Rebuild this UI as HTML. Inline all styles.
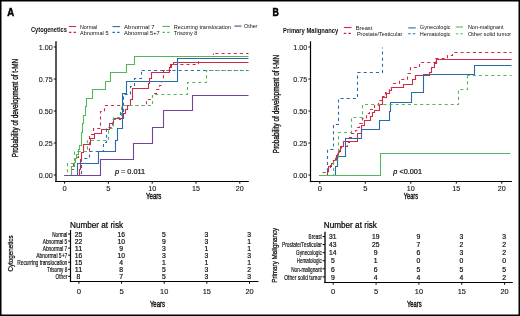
<!DOCTYPE html>
<html><head><meta charset="utf-8"><style>
html,body{margin:0;padding:0;background:#fff;width:520px;height:316px;overflow:hidden;}
svg{display:block;font-family:"Liberation Sans", sans-serif;will-change:transform;}
</style></head><body>
<svg width="520" height="316" viewBox="0 0 520 316">
<rect x="0" y="0" width="520" height="316" fill="#fff"/>
<text transform="translate(7.25,16.00) scale(0.1)" x="0" y="0" font-size="106.0" text-anchor="start" font-weight="bold" fill="#000" stroke="#000" stroke-width="5.00" textLength="69.0" lengthAdjust="spacingAndGlyphs">A</text>
<text transform="translate(272.55,15.60) scale(0.1)" x="0" y="0" font-size="106.0" text-anchor="start" font-weight="bold" fill="#000" stroke="#000" stroke-width="5.00" textLength="63.0" lengthAdjust="spacingAndGlyphs">B</text>
<text transform="translate(30.90,31.70) scale(0.1)" x="0" y="0" font-size="65.0" text-anchor="start" font-weight="bold" fill="#111" textLength="360.0" lengthAdjust="spacingAndGlyphs">Cytogenetics</text>
<line x1="68.90" y1="26.50" x2="76.10" y2="26.50" stroke="#cf2b45" stroke-width="1.1"/>
<line x1="68.90" y1="32.40" x2="76.10" y2="32.40" stroke="#cf2b45" stroke-width="1.1" stroke-dasharray="2.5,2.1"/>
<text transform="translate(80.00,28.80) scale(0.1)" x="0" y="0" font-size="60.5" text-anchor="start" font-weight="normal" fill="#111" textLength="173.0" lengthAdjust="spacingAndGlyphs">Normal</text>
<text transform="translate(80.00,35.00) scale(0.1)" x="0" y="0" font-size="60.5" text-anchor="start" font-weight="normal" fill="#111" textLength="285.0" lengthAdjust="spacingAndGlyphs">Abnormal 5</text>
<line x1="112.50" y1="26.60" x2="120.20" y2="26.60" stroke="#2b6ca6" stroke-width="1.1"/>
<line x1="112.50" y1="32.40" x2="120.20" y2="32.40" stroke="#2b6ca6" stroke-width="1.1" stroke-dasharray="2.5,2.1"/>
<text transform="translate(124.10,28.90) scale(0.1)" x="0" y="0" font-size="60.5" text-anchor="start" font-weight="normal" fill="#111" textLength="305.0" lengthAdjust="spacingAndGlyphs">Abnormal 7</text>
<text transform="translate(124.10,35.00) scale(0.1)" x="0" y="0" font-size="60.5" text-anchor="start" font-weight="normal" fill="#111" textLength="357.0" lengthAdjust="spacingAndGlyphs">Abnormal 5+7</text>
<line x1="162.50" y1="26.40" x2="169.90" y2="26.40" stroke="#55b75c" stroke-width="1.1"/>
<line x1="162.50" y1="32.40" x2="169.90" y2="32.40" stroke="#55b75c" stroke-width="1.1" stroke-dasharray="2.5,2.1"/>
<text transform="translate(173.80,29.00) scale(0.1)" x="0" y="0" font-size="60.5" text-anchor="start" font-weight="normal" fill="#111" textLength="571.0" lengthAdjust="spacingAndGlyphs">Recurring translocation</text>
<text transform="translate(173.80,35.10) scale(0.1)" x="0" y="0" font-size="60.5" text-anchor="start" font-weight="normal" fill="#111" textLength="235.0" lengthAdjust="spacingAndGlyphs">Trisomy 8</text>
<line x1="234.40" y1="26.10" x2="241.50" y2="26.10" stroke="#6a3596" stroke-width="1.1"/>
<text transform="translate(244.00,28.40) scale(0.1)" x="0" y="0" font-size="60.5" text-anchor="start" font-weight="normal" fill="#111" textLength="134.0" lengthAdjust="spacingAndGlyphs">Other</text>
<text transform="translate(283.10,32.80) scale(0.1)" x="0" y="0" font-size="65.0" text-anchor="start" font-weight="bold" fill="#111" textLength="551.0" lengthAdjust="spacingAndGlyphs">Primary Malignancy</text>
<line x1="343.80" y1="27.50" x2="351.50" y2="27.50" stroke="#cf2b45" stroke-width="1.1"/>
<line x1="343.80" y1="33.40" x2="351.50" y2="33.40" stroke="#cf2b45" stroke-width="1.1" stroke-dasharray="2.5,2.1"/>
<text transform="translate(355.80,29.90) scale(0.1)" x="0" y="0" font-size="60.5" text-anchor="start" font-weight="normal" fill="#111" textLength="165.0" lengthAdjust="spacingAndGlyphs">Breast</text>
<text transform="translate(356.90,36.20) scale(0.1)" x="0" y="0" font-size="60.5" text-anchor="start" font-weight="normal" fill="#111" textLength="454.0" lengthAdjust="spacingAndGlyphs">Prostate/Testicular</text>
<line x1="408.20" y1="27.90" x2="415.80" y2="27.90" stroke="#2b6ca6" stroke-width="1.1"/>
<line x1="408.20" y1="33.70" x2="415.80" y2="33.70" stroke="#2b6ca6" stroke-width="1.1" stroke-dasharray="2.5,2.1"/>
<text transform="translate(419.80,29.30) scale(0.1)" x="0" y="0" font-size="60.5" text-anchor="start" font-weight="normal" fill="#111" textLength="308.0" lengthAdjust="spacingAndGlyphs">Gynecologic</text>
<text transform="translate(419.80,36.20) scale(0.1)" x="0" y="0" font-size="60.5" text-anchor="start" font-weight="normal" fill="#111" textLength="308.0" lengthAdjust="spacingAndGlyphs">Hematologic</text>
<line x1="455.80" y1="27.00" x2="463.00" y2="27.00" stroke="#55b75c" stroke-width="1.1"/>
<line x1="455.80" y1="33.80" x2="463.00" y2="33.80" stroke="#55b75c" stroke-width="1.1" stroke-dasharray="2.5,2.1"/>
<text transform="translate(467.90,29.20) scale(0.1)" x="0" y="0" font-size="60.5" text-anchor="start" font-weight="normal" fill="#111" textLength="356.0" lengthAdjust="spacingAndGlyphs">Non-malignant</text>
<text transform="translate(467.90,36.20) scale(0.1)" x="0" y="0" font-size="60.5" text-anchor="start" font-weight="normal" fill="#111" textLength="433.0" lengthAdjust="spacingAndGlyphs">Other solid tumor</text>
<line x1="56.00" y1="41.30" x2="56.00" y2="182.10" stroke="#222" stroke-width="1.5"/>
<line x1="55.25" y1="181.50" x2="248.80" y2="181.50" stroke="#000" stroke-width="1.2"/>
<line x1="53.80" y1="47.00" x2="56.00" y2="47.00" stroke="#000" stroke-width="0.9"/>
<text transform="translate(52.80,49.75) scale(0.1)" x="0" y="0" font-size="73.0" text-anchor="end" font-weight="normal" fill="#111" stroke="#111" stroke-width="0.80" textLength="140.0" lengthAdjust="spacingAndGlyphs">1.00</text>
<line x1="53.80" y1="79.00" x2="56.00" y2="79.00" stroke="#000" stroke-width="0.9"/>
<text transform="translate(52.80,81.75) scale(0.1)" x="0" y="0" font-size="73.0" text-anchor="end" font-weight="normal" fill="#111" stroke="#111" stroke-width="0.80" textLength="140.0" lengthAdjust="spacingAndGlyphs">0.75</text>
<line x1="53.80" y1="111.00" x2="56.00" y2="111.00" stroke="#000" stroke-width="0.9"/>
<text transform="translate(52.80,113.75) scale(0.1)" x="0" y="0" font-size="73.0" text-anchor="end" font-weight="normal" fill="#111" stroke="#111" stroke-width="0.80" textLength="140.0" lengthAdjust="spacingAndGlyphs">0.50</text>
<line x1="53.80" y1="143.00" x2="56.00" y2="143.00" stroke="#000" stroke-width="0.9"/>
<text transform="translate(52.80,145.75) scale(0.1)" x="0" y="0" font-size="73.0" text-anchor="end" font-weight="normal" fill="#111" stroke="#111" stroke-width="0.80" textLength="140.0" lengthAdjust="spacingAndGlyphs">0.25</text>
<line x1="53.80" y1="175.00" x2="56.00" y2="175.00" stroke="#000" stroke-width="0.9"/>
<text transform="translate(52.80,177.75) scale(0.1)" x="0" y="0" font-size="73.0" text-anchor="end" font-weight="normal" fill="#111" stroke="#111" stroke-width="0.80" textLength="140.0" lengthAdjust="spacingAndGlyphs">0.00</text>
<line x1="64.60" y1="181.50" x2="64.60" y2="183.70" stroke="#000" stroke-width="1.0"/>
<text transform="translate(64.60,190.90) scale(0.1)" x="0" y="0" font-size="78.0" text-anchor="middle" font-weight="normal" fill="#111" stroke="#111" stroke-width="1.00" textLength="42.0" lengthAdjust="spacingAndGlyphs">0</text>
<line x1="108.40" y1="181.50" x2="108.40" y2="183.70" stroke="#000" stroke-width="1.0"/>
<text transform="translate(108.40,190.90) scale(0.1)" x="0" y="0" font-size="78.0" text-anchor="middle" font-weight="normal" fill="#111" stroke="#111" stroke-width="1.00" textLength="42.0" lengthAdjust="spacingAndGlyphs">5</text>
<line x1="152.20" y1="181.50" x2="152.20" y2="183.70" stroke="#000" stroke-width="1.0"/>
<text transform="translate(152.20,190.90) scale(0.1)" x="0" y="0" font-size="78.0" text-anchor="middle" font-weight="normal" fill="#111" stroke="#111" stroke-width="1.00" textLength="80.0" lengthAdjust="spacingAndGlyphs">10</text>
<line x1="196.00" y1="181.50" x2="196.00" y2="183.70" stroke="#000" stroke-width="1.0"/>
<text transform="translate(196.00,190.90) scale(0.1)" x="0" y="0" font-size="78.0" text-anchor="middle" font-weight="normal" fill="#111" stroke="#111" stroke-width="1.00" textLength="80.0" lengthAdjust="spacingAndGlyphs">15</text>
<line x1="239.80" y1="181.50" x2="239.80" y2="183.70" stroke="#000" stroke-width="1.0"/>
<text transform="translate(239.80,190.90) scale(0.1)" x="0" y="0" font-size="78.0" text-anchor="middle" font-weight="normal" fill="#111" stroke="#111" stroke-width="1.00" textLength="80.0" lengthAdjust="spacingAndGlyphs">20</text>
<text transform="translate(146.00,199.40) scale(0.1)" x="0" y="0" font-size="90.0" text-anchor="start" font-weight="normal" fill="#111" stroke="#111" stroke-width="4.00" textLength="154.0" lengthAdjust="spacingAndGlyphs">Years</text>
<text transform="translate(18.30,108.00) rotate(-90) scale(0.1)" x="0" y="0" font-size="84.0" text-anchor="middle" font-weight="normal" fill="#111" stroke="#111" stroke-width="3.50" textLength="983.0" lengthAdjust="spacingAndGlyphs">Probability of development of t-MN</text>
<line x1="310.50" y1="41.30" x2="310.50" y2="182.10" stroke="#000" stroke-width="1.2"/>
<line x1="309.90" y1="181.50" x2="511.90" y2="181.50" stroke="#000" stroke-width="1.2"/>
<line x1="308.30" y1="47.00" x2="310.50" y2="47.00" stroke="#000" stroke-width="0.9"/>
<text transform="translate(307.30,49.75) scale(0.1)" x="0" y="0" font-size="73.0" text-anchor="end" font-weight="normal" fill="#111" stroke="#111" stroke-width="0.80" textLength="140.0" lengthAdjust="spacingAndGlyphs">1.00</text>
<line x1="308.30" y1="79.00" x2="310.50" y2="79.00" stroke="#000" stroke-width="0.9"/>
<text transform="translate(307.30,81.75) scale(0.1)" x="0" y="0" font-size="73.0" text-anchor="end" font-weight="normal" fill="#111" stroke="#111" stroke-width="0.80" textLength="140.0" lengthAdjust="spacingAndGlyphs">0.75</text>
<line x1="308.30" y1="111.00" x2="310.50" y2="111.00" stroke="#000" stroke-width="0.9"/>
<text transform="translate(307.30,113.75) scale(0.1)" x="0" y="0" font-size="73.0" text-anchor="end" font-weight="normal" fill="#111" stroke="#111" stroke-width="0.80" textLength="140.0" lengthAdjust="spacingAndGlyphs">0.50</text>
<line x1="308.30" y1="143.00" x2="310.50" y2="143.00" stroke="#000" stroke-width="0.9"/>
<text transform="translate(307.30,145.75) scale(0.1)" x="0" y="0" font-size="73.0" text-anchor="end" font-weight="normal" fill="#111" stroke="#111" stroke-width="0.80" textLength="140.0" lengthAdjust="spacingAndGlyphs">0.25</text>
<line x1="308.30" y1="175.00" x2="310.50" y2="175.00" stroke="#000" stroke-width="0.9"/>
<text transform="translate(307.30,177.75) scale(0.1)" x="0" y="0" font-size="73.0" text-anchor="end" font-weight="normal" fill="#111" stroke="#111" stroke-width="0.80" textLength="140.0" lengthAdjust="spacingAndGlyphs">0.00</text>
<line x1="319.80" y1="181.50" x2="319.80" y2="183.70" stroke="#000" stroke-width="1.0"/>
<text transform="translate(319.80,190.90) scale(0.1)" x="0" y="0" font-size="78.0" text-anchor="middle" font-weight="normal" fill="#111" stroke="#111" stroke-width="1.00" textLength="42.0" lengthAdjust="spacingAndGlyphs">0</text>
<line x1="365.30" y1="181.50" x2="365.30" y2="183.70" stroke="#000" stroke-width="1.0"/>
<text transform="translate(365.30,190.90) scale(0.1)" x="0" y="0" font-size="78.0" text-anchor="middle" font-weight="normal" fill="#111" stroke="#111" stroke-width="1.00" textLength="42.0" lengthAdjust="spacingAndGlyphs">5</text>
<line x1="410.80" y1="181.50" x2="410.80" y2="183.70" stroke="#000" stroke-width="1.0"/>
<text transform="translate(410.80,190.90) scale(0.1)" x="0" y="0" font-size="78.0" text-anchor="middle" font-weight="normal" fill="#111" stroke="#111" stroke-width="1.00" textLength="80.0" lengthAdjust="spacingAndGlyphs">10</text>
<line x1="456.30" y1="181.50" x2="456.30" y2="183.70" stroke="#000" stroke-width="1.0"/>
<text transform="translate(456.30,190.90) scale(0.1)" x="0" y="0" font-size="78.0" text-anchor="middle" font-weight="normal" fill="#111" stroke="#111" stroke-width="1.00" textLength="80.0" lengthAdjust="spacingAndGlyphs">15</text>
<line x1="501.80" y1="181.50" x2="501.80" y2="183.70" stroke="#000" stroke-width="1.0"/>
<text transform="translate(501.80,190.90) scale(0.1)" x="0" y="0" font-size="78.0" text-anchor="middle" font-weight="normal" fill="#111" stroke="#111" stroke-width="1.00" textLength="80.0" lengthAdjust="spacingAndGlyphs">20</text>
<text transform="translate(403.80,199.40) scale(0.1)" x="0" y="0" font-size="90.0" text-anchor="start" font-weight="normal" fill="#111" stroke="#111" stroke-width="4.00" textLength="142.0" lengthAdjust="spacingAndGlyphs">Years</text>
<text transform="translate(279.00,104.00) rotate(-90) scale(0.1)" x="0" y="0" font-size="84.0" text-anchor="middle" font-weight="normal" fill="#111" stroke="#111" stroke-width="3.50" textLength="983.0" lengthAdjust="spacingAndGlyphs">Probability of development of t-MN</text>
<text transform="translate(114.90,173.60) scale(0.1)" x="0" y="0" font-size="70.0" text-anchor="start" font-weight="normal" fill="#111" stroke="#111" stroke-width="2.00" textLength="303.0" lengthAdjust="spacingAndGlyphs"><tspan font-style="italic">p</tspan> = 0.011</text>
<text transform="translate(393.30,173.80) scale(0.1)" x="0" y="0" font-size="70.0" text-anchor="start" font-weight="normal" fill="#111" stroke="#111" stroke-width="2.00" textLength="287.0" lengthAdjust="spacingAndGlyphs"><tspan font-style="italic">p</tspan> &lt;0.001</text>
<text transform="translate(70.00,227.50) scale(0.1)" x="0" y="0" font-size="83.0" text-anchor="start" font-weight="normal" fill="#000" stroke="#000" stroke-width="2.00" textLength="531.0" lengthAdjust="spacingAndGlyphs">Number at risk</text>
<line x1="70.50" y1="230.00" x2="70.50" y2="282.10" stroke="#000" stroke-width="1.2"/>
<line x1="69.90" y1="281.50" x2="258.50" y2="281.50" stroke="#000" stroke-width="1.2"/>
<line x1="68.10" y1="234.00" x2="70.50" y2="234.00" stroke="#000" stroke-width="1.0"/>
<text transform="translate(67.30,236.70) scale(0.1)" x="0" y="0" font-size="76.0" text-anchor="end" font-weight="normal" fill="#111" stroke="#111" stroke-width="2.00" textLength="151.0" lengthAdjust="spacingAndGlyphs">Normal</text>
<text transform="translate(78.50,236.70) scale(0.1)" x="0" y="0" font-size="66.0" text-anchor="middle" font-weight="normal" fill="#111" stroke="#111" stroke-width="2.00" textLength="75.0" lengthAdjust="spacingAndGlyphs">25</text>
<text transform="translate(121.15,236.70) scale(0.1)" x="0" y="0" font-size="66.0" text-anchor="middle" font-weight="normal" fill="#111" stroke="#111" stroke-width="2.00" textLength="75.0" lengthAdjust="spacingAndGlyphs">16</text>
<text transform="translate(163.80,236.70) scale(0.1)" x="0" y="0" font-size="66.0" text-anchor="middle" font-weight="normal" fill="#111" stroke="#111" stroke-width="2.00" textLength="38.0" lengthAdjust="spacingAndGlyphs">5</text>
<text transform="translate(206.45,236.70) scale(0.1)" x="0" y="0" font-size="66.0" text-anchor="middle" font-weight="normal" fill="#111" stroke="#111" stroke-width="2.00" textLength="38.0" lengthAdjust="spacingAndGlyphs">3</text>
<text transform="translate(249.10,236.70) scale(0.1)" x="0" y="0" font-size="66.0" text-anchor="middle" font-weight="normal" fill="#111" stroke="#111" stroke-width="2.00" textLength="38.0" lengthAdjust="spacingAndGlyphs">3</text>
<line x1="68.10" y1="241.05" x2="70.50" y2="241.05" stroke="#000" stroke-width="1.0"/>
<text transform="translate(67.30,243.75) scale(0.1)" x="0" y="0" font-size="76.0" text-anchor="end" font-weight="normal" fill="#111" stroke="#111" stroke-width="2.00" textLength="246.0" lengthAdjust="spacingAndGlyphs">Abnormal 5</text>
<text transform="translate(78.50,243.75) scale(0.1)" x="0" y="0" font-size="66.0" text-anchor="middle" font-weight="normal" fill="#111" stroke="#111" stroke-width="2.00" textLength="75.0" lengthAdjust="spacingAndGlyphs">22</text>
<text transform="translate(121.15,243.75) scale(0.1)" x="0" y="0" font-size="66.0" text-anchor="middle" font-weight="normal" fill="#111" stroke="#111" stroke-width="2.00" textLength="75.0" lengthAdjust="spacingAndGlyphs">10</text>
<text transform="translate(163.80,243.75) scale(0.1)" x="0" y="0" font-size="66.0" text-anchor="middle" font-weight="normal" fill="#111" stroke="#111" stroke-width="2.00" textLength="38.0" lengthAdjust="spacingAndGlyphs">9</text>
<text transform="translate(206.45,243.75) scale(0.1)" x="0" y="0" font-size="66.0" text-anchor="middle" font-weight="normal" fill="#111" stroke="#111" stroke-width="2.00" textLength="38.0" lengthAdjust="spacingAndGlyphs">3</text>
<text transform="translate(249.10,243.75) scale(0.1)" x="0" y="0" font-size="66.0" text-anchor="middle" font-weight="normal" fill="#111" stroke="#111" stroke-width="2.00" textLength="38.0" lengthAdjust="spacingAndGlyphs">1</text>
<line x1="68.10" y1="248.10" x2="70.50" y2="248.10" stroke="#000" stroke-width="1.0"/>
<text transform="translate(67.30,250.80) scale(0.1)" x="0" y="0" font-size="76.0" text-anchor="end" font-weight="normal" fill="#111" stroke="#111" stroke-width="2.00" textLength="246.0" lengthAdjust="spacingAndGlyphs">Abnormal 7</text>
<text transform="translate(78.50,250.80) scale(0.1)" x="0" y="0" font-size="66.0" text-anchor="middle" font-weight="normal" fill="#111" stroke="#111" stroke-width="2.00" textLength="75.0" lengthAdjust="spacingAndGlyphs">11</text>
<text transform="translate(121.15,250.80) scale(0.1)" x="0" y="0" font-size="66.0" text-anchor="middle" font-weight="normal" fill="#111" stroke="#111" stroke-width="2.00" textLength="38.0" lengthAdjust="spacingAndGlyphs">9</text>
<text transform="translate(163.80,250.80) scale(0.1)" x="0" y="0" font-size="66.0" text-anchor="middle" font-weight="normal" fill="#111" stroke="#111" stroke-width="2.00" textLength="38.0" lengthAdjust="spacingAndGlyphs">3</text>
<text transform="translate(206.45,250.80) scale(0.1)" x="0" y="0" font-size="66.0" text-anchor="middle" font-weight="normal" fill="#111" stroke="#111" stroke-width="2.00" textLength="38.0" lengthAdjust="spacingAndGlyphs">1</text>
<text transform="translate(249.10,250.80) scale(0.1)" x="0" y="0" font-size="66.0" text-anchor="middle" font-weight="normal" fill="#111" stroke="#111" stroke-width="2.00" textLength="38.0" lengthAdjust="spacingAndGlyphs">1</text>
<line x1="68.10" y1="255.15" x2="70.50" y2="255.15" stroke="#000" stroke-width="1.0"/>
<text transform="translate(67.30,257.85) scale(0.1)" x="0" y="0" font-size="76.0" text-anchor="end" font-weight="normal" fill="#111" stroke="#111" stroke-width="2.00" textLength="311.0" lengthAdjust="spacingAndGlyphs">Abnormal 5+7</text>
<text transform="translate(78.50,257.85) scale(0.1)" x="0" y="0" font-size="66.0" text-anchor="middle" font-weight="normal" fill="#111" stroke="#111" stroke-width="2.00" textLength="75.0" lengthAdjust="spacingAndGlyphs">16</text>
<text transform="translate(121.15,257.85) scale(0.1)" x="0" y="0" font-size="66.0" text-anchor="middle" font-weight="normal" fill="#111" stroke="#111" stroke-width="2.00" textLength="75.0" lengthAdjust="spacingAndGlyphs">10</text>
<text transform="translate(163.80,257.85) scale(0.1)" x="0" y="0" font-size="66.0" text-anchor="middle" font-weight="normal" fill="#111" stroke="#111" stroke-width="2.00" textLength="38.0" lengthAdjust="spacingAndGlyphs">3</text>
<text transform="translate(206.45,257.85) scale(0.1)" x="0" y="0" font-size="66.0" text-anchor="middle" font-weight="normal" fill="#111" stroke="#111" stroke-width="2.00" textLength="38.0" lengthAdjust="spacingAndGlyphs">3</text>
<text transform="translate(249.10,257.85) scale(0.1)" x="0" y="0" font-size="66.0" text-anchor="middle" font-weight="normal" fill="#111" stroke="#111" stroke-width="2.00" textLength="38.0" lengthAdjust="spacingAndGlyphs">3</text>
<line x1="68.10" y1="262.20" x2="70.50" y2="262.20" stroke="#000" stroke-width="1.0"/>
<text transform="translate(67.30,264.90) scale(0.1)" x="0" y="0" font-size="76.0" text-anchor="end" font-weight="normal" fill="#111" stroke="#111" stroke-width="2.00" textLength="501.0" lengthAdjust="spacingAndGlyphs">Recurring translocation</text>
<text transform="translate(78.50,264.90) scale(0.1)" x="0" y="0" font-size="66.0" text-anchor="middle" font-weight="normal" fill="#111" stroke="#111" stroke-width="2.00" textLength="75.0" lengthAdjust="spacingAndGlyphs">15</text>
<text transform="translate(121.15,264.90) scale(0.1)" x="0" y="0" font-size="66.0" text-anchor="middle" font-weight="normal" fill="#111" stroke="#111" stroke-width="2.00" textLength="38.0" lengthAdjust="spacingAndGlyphs">4</text>
<text transform="translate(163.80,264.90) scale(0.1)" x="0" y="0" font-size="66.0" text-anchor="middle" font-weight="normal" fill="#111" stroke="#111" stroke-width="2.00" textLength="38.0" lengthAdjust="spacingAndGlyphs">1</text>
<text transform="translate(206.45,264.90) scale(0.1)" x="0" y="0" font-size="66.0" text-anchor="middle" font-weight="normal" fill="#111" stroke="#111" stroke-width="2.00" textLength="38.0" lengthAdjust="spacingAndGlyphs">1</text>
<text transform="translate(249.10,264.90) scale(0.1)" x="0" y="0" font-size="66.0" text-anchor="middle" font-weight="normal" fill="#111" stroke="#111" stroke-width="2.00" textLength="38.0" lengthAdjust="spacingAndGlyphs">1</text>
<line x1="68.10" y1="269.25" x2="70.50" y2="269.25" stroke="#000" stroke-width="1.0"/>
<text transform="translate(67.30,271.95) scale(0.1)" x="0" y="0" font-size="76.0" text-anchor="end" font-weight="normal" fill="#111" stroke="#111" stroke-width="2.00" textLength="203.0" lengthAdjust="spacingAndGlyphs">Trisomy 8</text>
<text transform="translate(78.50,271.95) scale(0.1)" x="0" y="0" font-size="66.0" text-anchor="middle" font-weight="normal" fill="#111" stroke="#111" stroke-width="2.00" textLength="75.0" lengthAdjust="spacingAndGlyphs">11</text>
<text transform="translate(121.15,271.95) scale(0.1)" x="0" y="0" font-size="66.0" text-anchor="middle" font-weight="normal" fill="#111" stroke="#111" stroke-width="2.00" textLength="38.0" lengthAdjust="spacingAndGlyphs">8</text>
<text transform="translate(163.80,271.95) scale(0.1)" x="0" y="0" font-size="66.0" text-anchor="middle" font-weight="normal" fill="#111" stroke="#111" stroke-width="2.00" textLength="38.0" lengthAdjust="spacingAndGlyphs">5</text>
<text transform="translate(206.45,271.95) scale(0.1)" x="0" y="0" font-size="66.0" text-anchor="middle" font-weight="normal" fill="#111" stroke="#111" stroke-width="2.00" textLength="38.0" lengthAdjust="spacingAndGlyphs">3</text>
<text transform="translate(249.10,271.95) scale(0.1)" x="0" y="0" font-size="66.0" text-anchor="middle" font-weight="normal" fill="#111" stroke="#111" stroke-width="2.00" textLength="38.0" lengthAdjust="spacingAndGlyphs">2</text>
<line x1="68.10" y1="276.30" x2="70.50" y2="276.30" stroke="#000" stroke-width="1.0"/>
<text transform="translate(67.30,279.00) scale(0.1)" x="0" y="0" font-size="76.0" text-anchor="end" font-weight="normal" fill="#111" stroke="#111" stroke-width="2.00" textLength="117.0" lengthAdjust="spacingAndGlyphs">Other</text>
<text transform="translate(78.50,279.00) scale(0.1)" x="0" y="0" font-size="66.0" text-anchor="middle" font-weight="normal" fill="#111" stroke="#111" stroke-width="2.00" textLength="38.0" lengthAdjust="spacingAndGlyphs">8</text>
<text transform="translate(121.15,279.00) scale(0.1)" x="0" y="0" font-size="66.0" text-anchor="middle" font-weight="normal" fill="#111" stroke="#111" stroke-width="2.00" textLength="38.0" lengthAdjust="spacingAndGlyphs">7</text>
<text transform="translate(163.80,279.00) scale(0.1)" x="0" y="0" font-size="66.0" text-anchor="middle" font-weight="normal" fill="#111" stroke="#111" stroke-width="2.00" textLength="38.0" lengthAdjust="spacingAndGlyphs">5</text>
<text transform="translate(206.45,279.00) scale(0.1)" x="0" y="0" font-size="66.0" text-anchor="middle" font-weight="normal" fill="#111" stroke="#111" stroke-width="2.00" textLength="38.0" lengthAdjust="spacingAndGlyphs">3</text>
<text transform="translate(249.10,279.00) scale(0.1)" x="0" y="0" font-size="66.0" text-anchor="middle" font-weight="normal" fill="#111" stroke="#111" stroke-width="2.00" textLength="38.0" lengthAdjust="spacingAndGlyphs">3</text>
<line x1="78.90" y1="281.50" x2="78.90" y2="283.70" stroke="#000" stroke-width="1.0"/>
<text transform="translate(78.90,293.80) scale(0.1)" x="0" y="0" font-size="78.0" text-anchor="middle" font-weight="normal" fill="#111" stroke="#111" stroke-width="1.20" textLength="43.0" lengthAdjust="spacingAndGlyphs">0</text>
<line x1="121.55" y1="281.50" x2="121.55" y2="283.70" stroke="#000" stroke-width="1.0"/>
<text transform="translate(121.55,293.80) scale(0.1)" x="0" y="0" font-size="78.0" text-anchor="middle" font-weight="normal" fill="#111" stroke="#111" stroke-width="1.20" textLength="43.0" lengthAdjust="spacingAndGlyphs">5</text>
<line x1="164.20" y1="281.50" x2="164.20" y2="283.70" stroke="#000" stroke-width="1.0"/>
<text transform="translate(164.20,293.80) scale(0.1)" x="0" y="0" font-size="78.0" text-anchor="middle" font-weight="normal" fill="#111" stroke="#111" stroke-width="1.20" textLength="82.0" lengthAdjust="spacingAndGlyphs">10</text>
<line x1="206.85" y1="281.50" x2="206.85" y2="283.70" stroke="#000" stroke-width="1.0"/>
<text transform="translate(206.85,293.80) scale(0.1)" x="0" y="0" font-size="78.0" text-anchor="middle" font-weight="normal" fill="#111" stroke="#111" stroke-width="1.20" textLength="82.0" lengthAdjust="spacingAndGlyphs">15</text>
<line x1="249.50" y1="281.50" x2="249.50" y2="283.70" stroke="#000" stroke-width="1.0"/>
<text transform="translate(249.50,293.80) scale(0.1)" x="0" y="0" font-size="78.0" text-anchor="middle" font-weight="normal" fill="#111" stroke="#111" stroke-width="1.20" textLength="82.0" lengthAdjust="spacingAndGlyphs">20</text>
<text transform="translate(149.90,307.30) scale(0.1)" x="0" y="0" font-size="90.0" text-anchor="start" font-weight="normal" fill="#111" stroke="#111" stroke-width="4.00" textLength="151.0" lengthAdjust="spacingAndGlyphs">Years</text>
<text transform="translate(13.30,253.50) rotate(-90) scale(0.1)" x="0" y="0" font-size="80.0" text-anchor="middle" font-weight="normal" fill="#111" stroke="#111" stroke-width="2.80" textLength="360.0" lengthAdjust="spacingAndGlyphs">Cytogenetics</text>
<text transform="translate(323.80,227.50) scale(0.1)" x="0" y="0" font-size="83.0" text-anchor="start" font-weight="normal" fill="#000" stroke="#000" stroke-width="2.00" textLength="531.0" lengthAdjust="spacingAndGlyphs">Number at risk</text>
<line x1="325.00" y1="231.70" x2="325.00" y2="283.10" stroke="#222" stroke-width="1.5"/>
<line x1="324.25" y1="282.50" x2="512.80" y2="282.50" stroke="#000" stroke-width="1.2"/>
<line x1="322.60" y1="236.50" x2="325.00" y2="236.50" stroke="#000" stroke-width="1.0"/>
<text transform="translate(321.80,239.20) scale(0.1)" x="0" y="0" font-size="76.0" text-anchor="end" font-weight="normal" fill="#111" stroke="#111" stroke-width="2.00" textLength="132.0" lengthAdjust="spacingAndGlyphs">Breast</text>
<text transform="translate(332.80,239.20) scale(0.1)" x="0" y="0" font-size="66.0" text-anchor="middle" font-weight="normal" fill="#111" stroke="#111" stroke-width="2.00" textLength="75.0" lengthAdjust="spacingAndGlyphs">31</text>
<text transform="translate(375.65,239.20) scale(0.1)" x="0" y="0" font-size="66.0" text-anchor="middle" font-weight="normal" fill="#111" stroke="#111" stroke-width="2.00" textLength="75.0" lengthAdjust="spacingAndGlyphs">19</text>
<text transform="translate(418.50,239.20) scale(0.1)" x="0" y="0" font-size="66.0" text-anchor="middle" font-weight="normal" fill="#111" stroke="#111" stroke-width="2.00" textLength="38.0" lengthAdjust="spacingAndGlyphs">9</text>
<text transform="translate(461.35,239.20) scale(0.1)" x="0" y="0" font-size="66.0" text-anchor="middle" font-weight="normal" fill="#111" stroke="#111" stroke-width="2.00" textLength="38.0" lengthAdjust="spacingAndGlyphs">3</text>
<text transform="translate(504.20,239.20) scale(0.1)" x="0" y="0" font-size="66.0" text-anchor="middle" font-weight="normal" fill="#111" stroke="#111" stroke-width="2.00" textLength="38.0" lengthAdjust="spacingAndGlyphs">3</text>
<line x1="322.60" y1="244.58" x2="325.00" y2="244.58" stroke="#000" stroke-width="1.0"/>
<text transform="translate(321.80,247.28) scale(0.1)" x="0" y="0" font-size="76.0" text-anchor="end" font-weight="normal" fill="#111" stroke="#111" stroke-width="2.00" textLength="398.0" lengthAdjust="spacingAndGlyphs">Prostate/Testicular</text>
<text transform="translate(332.80,247.28) scale(0.1)" x="0" y="0" font-size="66.0" text-anchor="middle" font-weight="normal" fill="#111" stroke="#111" stroke-width="2.00" textLength="75.0" lengthAdjust="spacingAndGlyphs">43</text>
<text transform="translate(375.65,247.28) scale(0.1)" x="0" y="0" font-size="66.0" text-anchor="middle" font-weight="normal" fill="#111" stroke="#111" stroke-width="2.00" textLength="75.0" lengthAdjust="spacingAndGlyphs">25</text>
<text transform="translate(418.50,247.28) scale(0.1)" x="0" y="0" font-size="66.0" text-anchor="middle" font-weight="normal" fill="#111" stroke="#111" stroke-width="2.00" textLength="38.0" lengthAdjust="spacingAndGlyphs">7</text>
<text transform="translate(461.35,247.28) scale(0.1)" x="0" y="0" font-size="66.0" text-anchor="middle" font-weight="normal" fill="#111" stroke="#111" stroke-width="2.00" textLength="38.0" lengthAdjust="spacingAndGlyphs">2</text>
<text transform="translate(504.20,247.28) scale(0.1)" x="0" y="0" font-size="66.0" text-anchor="middle" font-weight="normal" fill="#111" stroke="#111" stroke-width="2.00" textLength="38.0" lengthAdjust="spacingAndGlyphs">2</text>
<line x1="322.60" y1="252.66" x2="325.00" y2="252.66" stroke="#000" stroke-width="1.0"/>
<text transform="translate(321.80,255.36) scale(0.1)" x="0" y="0" font-size="76.0" text-anchor="end" font-weight="normal" fill="#111" stroke="#111" stroke-width="2.00" textLength="257.0" lengthAdjust="spacingAndGlyphs">Gynecologic</text>
<text transform="translate(332.80,255.36) scale(0.1)" x="0" y="0" font-size="66.0" text-anchor="middle" font-weight="normal" fill="#111" stroke="#111" stroke-width="2.00" textLength="75.0" lengthAdjust="spacingAndGlyphs">14</text>
<text transform="translate(375.65,255.36) scale(0.1)" x="0" y="0" font-size="66.0" text-anchor="middle" font-weight="normal" fill="#111" stroke="#111" stroke-width="2.00" textLength="38.0" lengthAdjust="spacingAndGlyphs">9</text>
<text transform="translate(418.50,255.36) scale(0.1)" x="0" y="0" font-size="66.0" text-anchor="middle" font-weight="normal" fill="#111" stroke="#111" stroke-width="2.00" textLength="38.0" lengthAdjust="spacingAndGlyphs">6</text>
<text transform="translate(461.35,255.36) scale(0.1)" x="0" y="0" font-size="66.0" text-anchor="middle" font-weight="normal" fill="#111" stroke="#111" stroke-width="2.00" textLength="38.0" lengthAdjust="spacingAndGlyphs">3</text>
<text transform="translate(504.20,255.36) scale(0.1)" x="0" y="0" font-size="66.0" text-anchor="middle" font-weight="normal" fill="#111" stroke="#111" stroke-width="2.00" textLength="38.0" lengthAdjust="spacingAndGlyphs">2</text>
<line x1="322.60" y1="260.74" x2="325.00" y2="260.74" stroke="#000" stroke-width="1.0"/>
<text transform="translate(321.80,263.44) scale(0.1)" x="0" y="0" font-size="76.0" text-anchor="end" font-weight="normal" fill="#111" stroke="#111" stroke-width="2.00" textLength="251.0" lengthAdjust="spacingAndGlyphs">Hematologic</text>
<text transform="translate(332.80,263.44) scale(0.1)" x="0" y="0" font-size="66.0" text-anchor="middle" font-weight="normal" fill="#111" stroke="#111" stroke-width="2.00" textLength="38.0" lengthAdjust="spacingAndGlyphs">5</text>
<text transform="translate(375.65,263.44) scale(0.1)" x="0" y="0" font-size="66.0" text-anchor="middle" font-weight="normal" fill="#111" stroke="#111" stroke-width="2.00" textLength="38.0" lengthAdjust="spacingAndGlyphs">1</text>
<text transform="translate(418.50,263.44) scale(0.1)" x="0" y="0" font-size="66.0" text-anchor="middle" font-weight="normal" fill="#111" stroke="#111" stroke-width="2.00" textLength="38.0" lengthAdjust="spacingAndGlyphs">0</text>
<text transform="translate(461.35,263.44) scale(0.1)" x="0" y="0" font-size="66.0" text-anchor="middle" font-weight="normal" fill="#111" stroke="#111" stroke-width="2.00" textLength="38.0" lengthAdjust="spacingAndGlyphs">0</text>
<text transform="translate(504.20,263.44) scale(0.1)" x="0" y="0" font-size="66.0" text-anchor="middle" font-weight="normal" fill="#111" stroke="#111" stroke-width="2.00" textLength="38.0" lengthAdjust="spacingAndGlyphs">0</text>
<line x1="322.60" y1="268.82" x2="325.00" y2="268.82" stroke="#000" stroke-width="1.0"/>
<text transform="translate(321.80,271.52) scale(0.1)" x="0" y="0" font-size="76.0" text-anchor="end" font-weight="normal" fill="#111" stroke="#111" stroke-width="2.00" textLength="306.0" lengthAdjust="spacingAndGlyphs">Non-malignant</text>
<text transform="translate(332.80,271.52) scale(0.1)" x="0" y="0" font-size="66.0" text-anchor="middle" font-weight="normal" fill="#111" stroke="#111" stroke-width="2.00" textLength="38.0" lengthAdjust="spacingAndGlyphs">6</text>
<text transform="translate(375.65,271.52) scale(0.1)" x="0" y="0" font-size="66.0" text-anchor="middle" font-weight="normal" fill="#111" stroke="#111" stroke-width="2.00" textLength="38.0" lengthAdjust="spacingAndGlyphs">6</text>
<text transform="translate(418.50,271.52) scale(0.1)" x="0" y="0" font-size="66.0" text-anchor="middle" font-weight="normal" fill="#111" stroke="#111" stroke-width="2.00" textLength="38.0" lengthAdjust="spacingAndGlyphs">5</text>
<text transform="translate(461.35,271.52) scale(0.1)" x="0" y="0" font-size="66.0" text-anchor="middle" font-weight="normal" fill="#111" stroke="#111" stroke-width="2.00" textLength="38.0" lengthAdjust="spacingAndGlyphs">5</text>
<text transform="translate(504.20,271.52) scale(0.1)" x="0" y="0" font-size="66.0" text-anchor="middle" font-weight="normal" fill="#111" stroke="#111" stroke-width="2.00" textLength="38.0" lengthAdjust="spacingAndGlyphs">5</text>
<line x1="322.60" y1="276.90" x2="325.00" y2="276.90" stroke="#000" stroke-width="1.0"/>
<text transform="translate(321.80,279.60) scale(0.1)" x="0" y="0" font-size="76.0" text-anchor="end" font-weight="normal" fill="#111" stroke="#111" stroke-width="2.00" textLength="376.0" lengthAdjust="spacingAndGlyphs">Other solid tumor</text>
<text transform="translate(332.80,279.60) scale(0.1)" x="0" y="0" font-size="66.0" text-anchor="middle" font-weight="normal" fill="#111" stroke="#111" stroke-width="2.00" textLength="38.0" lengthAdjust="spacingAndGlyphs">9</text>
<text transform="translate(375.65,279.60) scale(0.1)" x="0" y="0" font-size="66.0" text-anchor="middle" font-weight="normal" fill="#111" stroke="#111" stroke-width="2.00" textLength="38.0" lengthAdjust="spacingAndGlyphs">4</text>
<text transform="translate(418.50,279.60) scale(0.1)" x="0" y="0" font-size="66.0" text-anchor="middle" font-weight="normal" fill="#111" stroke="#111" stroke-width="2.00" textLength="38.0" lengthAdjust="spacingAndGlyphs">4</text>
<text transform="translate(461.35,279.60) scale(0.1)" x="0" y="0" font-size="66.0" text-anchor="middle" font-weight="normal" fill="#111" stroke="#111" stroke-width="2.00" textLength="38.0" lengthAdjust="spacingAndGlyphs">4</text>
<text transform="translate(504.20,279.60) scale(0.1)" x="0" y="0" font-size="66.0" text-anchor="middle" font-weight="normal" fill="#111" stroke="#111" stroke-width="2.00" textLength="38.0" lengthAdjust="spacingAndGlyphs">2</text>
<line x1="333.20" y1="282.50" x2="333.20" y2="284.70" stroke="#000" stroke-width="1.0"/>
<text transform="translate(333.20,293.80) scale(0.1)" x="0" y="0" font-size="78.0" text-anchor="middle" font-weight="normal" fill="#111" stroke="#111" stroke-width="1.20" textLength="43.0" lengthAdjust="spacingAndGlyphs">0</text>
<line x1="376.05" y1="282.50" x2="376.05" y2="284.70" stroke="#000" stroke-width="1.0"/>
<text transform="translate(376.05,293.80) scale(0.1)" x="0" y="0" font-size="78.0" text-anchor="middle" font-weight="normal" fill="#111" stroke="#111" stroke-width="1.20" textLength="43.0" lengthAdjust="spacingAndGlyphs">5</text>
<line x1="418.90" y1="282.50" x2="418.90" y2="284.70" stroke="#000" stroke-width="1.0"/>
<text transform="translate(418.90,293.80) scale(0.1)" x="0" y="0" font-size="78.0" text-anchor="middle" font-weight="normal" fill="#111" stroke="#111" stroke-width="1.20" textLength="82.0" lengthAdjust="spacingAndGlyphs">10</text>
<line x1="461.75" y1="282.50" x2="461.75" y2="284.70" stroke="#000" stroke-width="1.0"/>
<text transform="translate(461.75,293.80) scale(0.1)" x="0" y="0" font-size="78.0" text-anchor="middle" font-weight="normal" fill="#111" stroke="#111" stroke-width="1.20" textLength="82.0" lengthAdjust="spacingAndGlyphs">15</text>
<line x1="504.60" y1="282.50" x2="504.60" y2="284.70" stroke="#000" stroke-width="1.0"/>
<text transform="translate(504.60,293.80) scale(0.1)" x="0" y="0" font-size="78.0" text-anchor="middle" font-weight="normal" fill="#111" stroke="#111" stroke-width="1.20" textLength="82.0" lengthAdjust="spacingAndGlyphs">20</text>
<text transform="translate(407.00,307.30) scale(0.1)" x="0" y="0" font-size="90.0" text-anchor="start" font-weight="normal" fill="#111" stroke="#111" stroke-width="4.00" textLength="147.0" lengthAdjust="spacingAndGlyphs">Years</text>
<text transform="translate(276.90,255.30) rotate(-90) scale(0.1)" x="0" y="0" font-size="80.0" text-anchor="middle" font-weight="normal" fill="#111" stroke="#111" stroke-width="2.80" textLength="550.0" lengthAdjust="spacingAndGlyphs">Primary Malignancy</text>
<polyline points="64.50,175.50 81.50,175.50 81.50,158.50 89.50,158.50 89.50,151.50 103.50,151.50 103.50,142.50 106.50,142.50 106.50,127.50 112.50,127.50 112.50,119.50 120.50,119.50 120.50,111.50 123.50,111.50 123.50,94.50 130.50,94.50 130.50,86.50 134.50,86.50 134.50,78.50 141.50,78.50 141.50,70.50" fill="none" stroke="#2b6ca6" stroke-width="1.1" stroke-linejoin="miter" stroke-linecap="butt" stroke-dasharray="3.1,3.03"/>
<line x1="141.50" y1="70.50" x2="248.50" y2="70.50" stroke="#2b6ca6" stroke-width="1.1" stroke-dasharray="3.1,3.03" stroke-dashoffset="5.84"/>
<polyline points="64.50,175.50 79.50,175.50 79.50,169.50 80.50,169.50 80.50,159.50 81.50,159.50 81.50,152.50 83.50,152.50 83.50,144.50 90.50,144.50 90.50,138.50 94.50,138.50 94.50,133.50 101.50,133.50 101.50,129.50 109.50,129.50 109.50,123.50 113.50,123.50 113.50,118.50 123.50,118.50 123.50,113.50 125.50,113.50 125.50,109.50 127.50,109.50 127.50,105.50 130.50,105.50 130.50,99.50 132.50,99.50 132.50,88.50 148.50,88.50 148.50,83.50 149.50,83.50 149.50,78.50 151.50,78.50 151.50,72.50 169.50,72.50 169.50,67.50 171.50,67.50 171.50,64.50 173.50,64.50 173.50,62.50 248.50,62.50" fill="none" stroke="#cf2b45" stroke-width="1.1" stroke-linejoin="miter" stroke-linecap="butt"/>
<polyline points="64.50,175.50 71.50,175.50 71.50,169.50 73.50,169.50 73.50,163.50 75.50,163.50 75.50,157.50 78.50,157.50 78.50,151.50 89.50,151.50 89.50,134.50 93.50,134.50 93.50,128.50 100.50,128.50 100.50,111.50 104.50,111.50 104.50,105.50 146.50,105.50 146.50,99.50 152.50,99.50 152.50,93.50 156.50,93.50 156.50,89.50 159.50,89.50 159.50,85.50 161.50,85.50 161.50,81.50 163.50,81.50 163.50,70.50 170.50,70.50 170.50,64.50 198.50,64.50 198.50,58.50 213.50,58.50 213.50,53.50" fill="none" stroke="#cf2b45" stroke-width="1.1" stroke-linejoin="miter" stroke-linecap="butt" stroke-dasharray="3.1,3.03"/>
<line x1="213.50" y1="53.50" x2="248.50" y2="53.50" stroke="#cf2b45" stroke-width="1.1" stroke-dasharray="3.1,3.03" stroke-dashoffset="4.28"/>
<polyline points="64.50,175.50 77.50,175.50 77.50,163.50 98.50,163.50 98.50,151.50 115.50,151.50 115.50,140.50 117.50,140.50 117.50,128.50 122.50,128.50 122.50,93.50 126.50,93.50 126.50,81.50 177.50,81.50 177.50,58.50 248.50,58.50" fill="none" stroke="#2b6ca6" stroke-width="1.1" stroke-linejoin="miter" stroke-linecap="butt"/>
<polyline points="64.50,175.50 71.50,175.50 71.50,166.50 74.50,166.50 74.50,162.50 75.50,162.50 75.50,158.50 76.50,158.50 76.50,154.50 78.50,154.50 78.50,149.50 79.50,149.50 79.50,145.50 81.50,145.50 81.50,137.50 81.50,137.50 81.50,132.50 82.50,132.50 82.50,123.50 83.50,123.50 83.50,115.50 85.50,115.50 85.50,106.50 86.50,106.50 86.50,98.50 92.50,98.50 92.50,89.50 105.50,89.50 105.50,81.50 110.50,81.50 110.50,72.50 126.50,72.50 126.50,64.50 134.50,64.50 134.50,56.50 248.50,56.50" fill="none" stroke="#55b75c" stroke-width="1.1" stroke-linejoin="miter" stroke-linecap="butt"/>
<polyline points="64.50,175.50 67.50,175.50 67.50,163.50 74.50,163.50 74.50,151.50 87.50,151.50 87.50,140.50 108.50,140.50 108.50,128.50 113.50,128.50 113.50,117.50 121.50,117.50 121.50,105.50 152.50,105.50 152.50,94.50 187.50,94.50 187.50,82.50 206.50,82.50 206.50,70.50" fill="none" stroke="#55b75c" stroke-width="1.1" stroke-linejoin="miter" stroke-linecap="butt" stroke-dasharray="3.1,3.03"/>
<line x1="206.50" y1="70.50" x2="248.50" y2="70.50" stroke="#55b75c" stroke-width="1.1" stroke-dasharray="3.1,3.03" stroke-dashoffset="2.11"/>
<polyline points="64.50,175.50 100.50,175.50 100.50,159.50 133.50,159.50 133.50,143.50 152.50,143.50 152.50,127.50 163.50,127.50 163.50,110.50 192.50,110.50 192.50,95.50 248.50,95.50" fill="none" stroke="#74439a" stroke-width="1.1" stroke-linejoin="miter" stroke-linecap="butt"/>
<polyline points="319.50,175.50 327.50,175.50 327.50,169.50 328.50,169.50 328.50,166.50 331.50,166.50 331.50,163.50 333.50,163.50 333.50,160.50 336.50,160.50 336.50,155.50 338.50,155.50 338.50,151.50 340.50,151.50 340.50,146.50 343.50,146.50 343.50,141.50 357.50,141.50 357.50,133.50 361.50,133.50 361.50,125.50 364.50,125.50 364.50,120.50 370.50,120.50 370.50,116.50 372.50,116.50 372.50,112.50 374.50,112.50 374.50,110.50 379.50,110.50 379.50,104.50 382.50,104.50 382.50,97.50 386.50,97.50 386.50,93.50 389.50,93.50 389.50,90.50 391.50,90.50 391.50,87.50 403.50,87.50 403.50,84.50 412.50,84.50 412.50,79.50 415.50,79.50 415.50,75.50 429.50,75.50 429.50,72.50 431.50,72.50 431.50,67.50 434.50,67.50 434.50,63.50 436.50,63.50 436.50,59.50 511.50,59.50" fill="none" stroke="#cf2b45" stroke-width="1.1" stroke-linejoin="miter" stroke-linecap="butt"/>
<polyline points="319.50,175.50 322.50,175.50 322.50,172.50 328.50,172.50 328.50,168.50 330.50,168.50 330.50,165.50 333.50,165.50 333.50,160.50 335.50,160.50 335.50,155.50 337.50,155.50 337.50,152.50 339.50,152.50 339.50,150.50 341.50,150.50 341.50,146.50 347.50,146.50 347.50,142.50 349.50,142.50 349.50,137.50 351.50,137.50 351.50,133.50 355.50,133.50 355.50,130.50 357.50,130.50 357.50,127.50 359.50,127.50 359.50,123.50 362.50,123.50 362.50,118.50 366.50,118.50 366.50,113.50 369.50,113.50 369.50,109.50 374.50,109.50 374.50,105.50 378.50,105.50 378.50,100.50 382.50,100.50 382.50,96.50 385.50,96.50 385.50,92.50 389.50,92.50 389.50,87.50 393.50,87.50 393.50,83.50 399.50,83.50 399.50,79.50 407.50,79.50 407.50,73.50 410.50,73.50 410.50,67.50 419.50,67.50 419.50,62.50 435.50,62.50 435.50,58.50 447.50,58.50 447.50,55.50 452.50,55.50 452.50,52.50" fill="none" stroke="#cf2b45" stroke-width="1.1" stroke-linejoin="miter" stroke-linecap="butt" stroke-dasharray="3.1,3.03"/>
<line x1="452.50" y1="52.50" x2="511.50" y2="52.50" stroke="#cf2b45" stroke-width="1.1" stroke-dasharray="3.1,3.03" stroke-dashoffset="4.21"/>
<polyline points="319.50,175.50 335.50,175.50 335.50,166.50 337.50,166.50 337.50,156.50 345.50,156.50 345.50,138.50 361.50,138.50 361.50,129.50 379.50,129.50 379.50,120.50 389.50,120.50 389.50,111.50 390.50,111.50 390.50,102.50 411.50,102.50 411.50,92.50 423.50,92.50 423.50,74.50 474.50,74.50 474.50,65.50 511.50,65.50" fill="none" stroke="#2b6ca6" stroke-width="1.1" stroke-linejoin="miter" stroke-linecap="butt"/>
<polyline points="319.50,175.50 327.50,175.50 327.50,149.50 333.50,149.50 333.50,124.50 338.50,124.50 338.50,98.50 357.50,98.50 357.50,72.50 382.50,72.50 382.50,47.50" fill="none" stroke="#2b6ca6" stroke-width="1.1" stroke-linejoin="miter" stroke-linecap="butt" stroke-dasharray="3.1,3.03"/>
<polyline points="319.50,175.50 380.50,175.50 380.50,153.50 510.50,153.50" fill="none" stroke="#55b75c" stroke-width="1.1" stroke-linejoin="miter" stroke-linecap="butt"/>
<polyline points="319.50,175.50 333.50,175.50 333.50,160.50 338.50,160.50 338.50,132.50 351.50,132.50 351.50,117.50 362.50,117.50 362.50,104.50 458.50,104.50 458.50,89.50 467.50,89.50 467.50,75.50" fill="none" stroke="#55b75c" stroke-width="1.1" stroke-linejoin="miter" stroke-linecap="butt" stroke-dasharray="3.1,3.03"/>
<line x1="467.50" y1="75.50" x2="511.50" y2="75.50" stroke="#55b75c" stroke-width="1.1" stroke-dasharray="3.1,3.03" stroke-dashoffset="0.82"/>
<rect x="0" y="0" width="520" height="316" fill="none" stroke="#000" stroke-width="3"/>
</svg>
</body></html>
